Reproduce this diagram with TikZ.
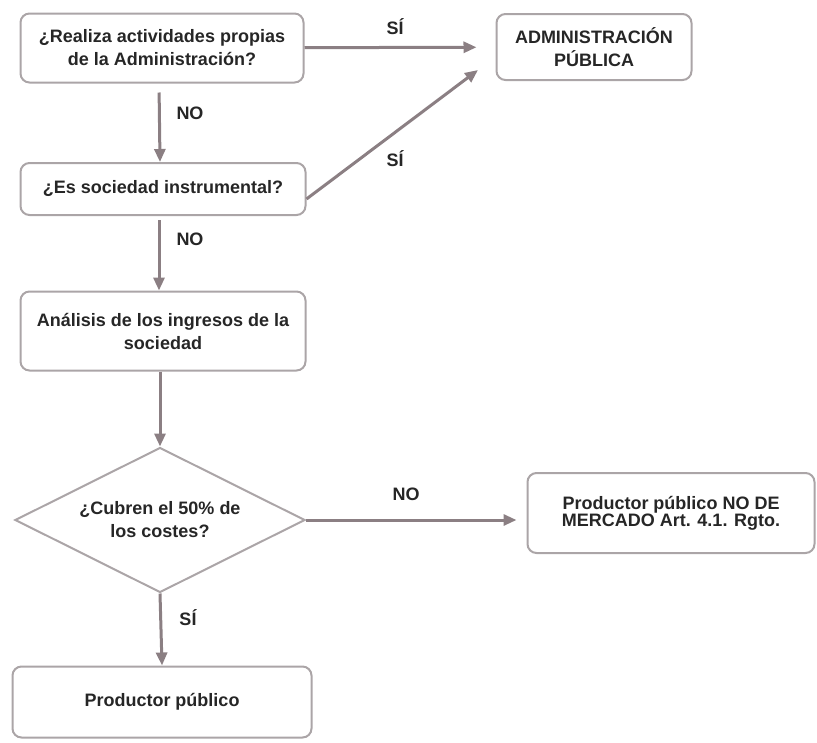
\documentclass[tikz,border=0pt]{standalone}
\usepackage{fontspec}
\setmainfont{Liberation Sans}
\usepackage{xcolor}
\usetikzlibrary{arrows.meta, shapes.geometric}
\definecolor{flowgray}{HTML}{8B7F83}
\definecolor{boxgray}{HTML}{ABA5A7}
\definecolor{inkgray}{HTML}{262626}

\begin{document}
\begin{tikzpicture}[x=1pt, y=-1pt, >={Triangle[length=13pt, width=11pt]},
    font=\fontsize{18}{23}\selectfont\bfseries, text=inkgray,
    box/.style={draw=boxgray, line width=2pt, rounded corners=9pt, align=center, inner sep=0pt},
    flow/.style={->, draw=flowgray, line width=3pt},
    answer/.style={inner sep=0pt}]
  \useasboundingbox (0,0) rectangle (817,742);
  % Boxes
  \node[box, minimum width=283pt, minimum height=69pt] (q1) at (162,48) {¿Realiza actividades propias\\de la Administración?};
  \node[box, minimum width=195pt, minimum height=66pt] (admin) at (594,47) {ADMINISTRACIÓN\\PÚBLICA};
  \node[box, minimum width=285pt, minimum height=52pt] (q2) at (163,189) {¿Es sociedad instrumental?};
  \node[box, minimum width=285pt, minimum height=79pt] (income) at (163,331) {Análisis de los ingresos de la\\sociedad};
  \node[draw=boxgray, line width=2pt, diamond, aspect=2, inner sep=0pt, align=center,
        minimum width=290pt, minimum height=145pt] (q3) at (160,520) {¿Cubren el 50\% de\\los costes?};
  \node[box, minimum width=287pt, minimum height=80pt, font=\fontsize{18}{17}\selectfont\bfseries] (nonmarket) at (671,513) {Productor público NO DE\\MERCADO Art. 4.1. Rgto.};
  \node[box, minimum width=299pt, minimum height=71pt] (producer) at (162,702) {Productor público};
  \coordinate (diagend) at (478,70);
  % Yes branches to the administration
  \draw[flow, shorten >=19pt] (q1) -- (admin);
  \draw[flow] ([yshift=-10pt]q2.east) -- (diagend);
  % Downward flow
  \draw[flow, shorten <=9pt] ([xshift=-3pt]q1.south) -- ([xshift=-3pt]q2.north);
  \draw[flow, shorten <=4pt] ([xshift=-4pt]q2.south) -- ([xshift=-4pt]income.north);
  \draw[flow] ([xshift=-3pt]income.south) -- (q3.north);
  \draw[flow] (q3.south) -- (producer.north);
  \draw[flow, shorten >=10pt] (q3.east) -- (q3.east -| nonmarket.west);
  % Answers
  \node[answer] (yes1) at (395,27) {SÍ};
  \node[answer] (yes2) at (395,159) {SÍ};
  \node[answer] (no1) at (190,113) {NO};
  \node[answer] (no2) at (190,239) {NO};
  \node[answer] (no3) at (406,494) {NO};
  \node[answer] (yes3) at (188,618) {SÍ};
\end{tikzpicture}
\end{document}
